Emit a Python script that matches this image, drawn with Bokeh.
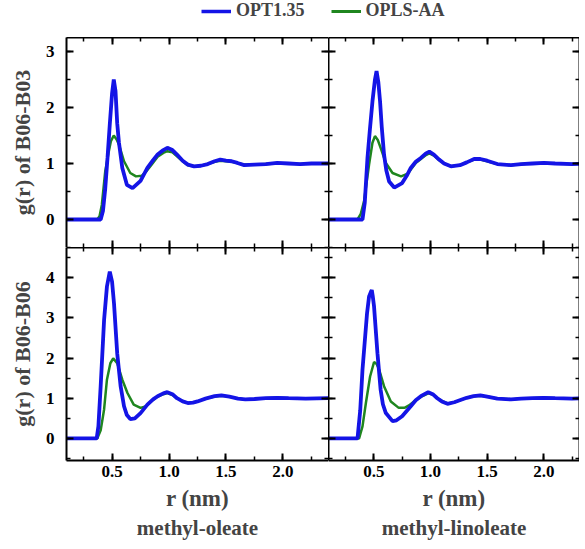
from bokeh.plotting import figure
from bokeh.models import (Range1d, LinearAxis, SingleIntervalTicker, FixedTicker,
                          PrintfTickFormatter, Legend, LegendItem, CustomLabelingPolicy)
from bokeh.layouts import column, row
from bokeh.embed import file_html
from bokeh.resources import INLINE

FONT = "Liberation Serif"
BLUE = "#1414e6"
GREEN = "#1f861f"

series_names = ["OPT1.35", "OPLS-AA"]
column_titles = ["methyl-oleate", "methyl-linoleate"]
row_titles = ["g(r) of B06-B03", "g(r) of B06-B06"]
x_title = "r (nm)"

# ---- methyl-oleate, B06-B03 ----
r_ole_b03_opt = [0.10, 0.40, 0.42, 0.44, 0.46, 0.48, 0.50, 0.515, 0.53, 0.545, 0.56, 0.59, 0.63,
                 0.68, 0.75, 0.81, 0.86, 0.90, 0.95, 0.985, 1.03, 1.07, 1.12, 1.165, 1.22, 1.28,
                 1.34, 1.40, 1.45, 1.50, 1.55, 1.60, 1.66, 1.75, 1.85, 1.95, 2.05, 2.15, 2.25, 2.40]
g_ole_b03_opt = [0.0, 0.0, 0.15, 0.55, 1.10, 1.70, 2.25, 2.50, 2.30, 1.72, 1.38, 0.92, 0.62,
                 0.56, 0.69, 0.92, 1.06, 1.16, 1.24, 1.28, 1.24, 1.16, 1.05, 0.98, 0.95, 0.96,
                 0.99, 1.04, 1.07, 1.05, 1.04, 1.01, 0.97, 0.98, 0.99, 1.01, 1.00, 0.99, 1.00, 1.00]
r_ole_b03_opls = [0.10, 0.37, 0.39, 0.41, 0.44, 0.47, 0.49, 0.515, 0.54, 0.56, 0.605, 0.66, 0.71,
                  0.76, 0.80, 0.84, 0.90, 0.95, 0.985, 1.03, 1.07, 1.12, 1.165, 1.22, 1.28, 1.34,
                  1.40, 1.45, 1.50, 1.55, 1.60, 1.66, 1.75, 1.85, 1.95, 2.05, 2.15, 2.25, 2.40]
g_ole_b03_opls = [0.0, 0.0, 0.06, 0.26, 0.86, 1.20, 1.40, 1.50, 1.43, 1.34, 1.04, 0.83, 0.77,
                  0.78, 0.86, 0.96, 1.12, 1.19, 1.22, 1.20, 1.13, 1.04, 0.97, 0.95, 0.96, 0.99,
                  1.03, 1.05, 1.04, 1.03, 1.01, 0.98, 0.98, 0.99, 1.00, 1.00, 0.99, 1.00, 1.00]

# ---- methyl-oleate, B06-B06 ----
r_ole_b06_opt = [0.10, 0.365, 0.38, 0.40, 0.43, 0.455, 0.48, 0.50, 0.517, 0.545, 0.575, 0.605,
                 0.63, 0.66, 0.70, 0.75, 0.81, 0.86, 0.90, 0.95, 0.985, 1.03, 1.07, 1.12, 1.165,
                 1.21, 1.25, 1.32, 1.40, 1.46, 1.53, 1.605, 1.67, 1.75, 1.85, 1.95, 2.05, 2.20, 2.40]
g_ole_b06_opt = [0.0, 0.0, 0.30, 1.30, 2.95, 3.78, 4.15, 3.90, 3.36, 2.12, 1.30, 0.80,
                 0.58, 0.48, 0.50, 0.63, 0.84, 0.97, 1.05, 1.12, 1.15, 1.10, 1.00, 0.92, 0.88,
                 0.89, 0.92, 0.99, 1.05, 1.07, 1.04, 0.99, 0.97, 0.98, 1.00, 1.01, 1.00, 0.99, 1.00]
r_ole_b06_opls = [0.10, 0.37, 0.40, 0.43, 0.455, 0.485, 0.51, 0.545, 0.59, 0.635, 0.69, 0.75,
                  0.80, 0.84, 0.90, 0.95, 0.985, 1.03, 1.07, 1.12, 1.165, 1.21, 1.25, 1.32, 1.40,
                  1.46, 1.53, 1.605, 1.67, 1.75, 1.85, 1.95, 2.05, 2.20, 2.40]
g_ole_b06_opls = [0.0, 0.0, 0.20, 0.72, 1.46, 1.87, 1.99, 1.87, 1.46, 1.13, 0.84, 0.76,
                  0.80, 0.92, 1.04, 1.10, 1.13, 1.08, 1.00, 0.92, 0.89, 0.89, 0.92, 0.99, 1.04,
                  1.06, 1.04, 0.99, 0.97, 0.98, 1.00, 1.01, 1.00, 0.99, 1.00]

# ---- methyl-linoleate, B06-B03 ----
r_lin_b03_opt = [0.10, 0.40, 0.42, 0.444, 0.465, 0.488, 0.51, 0.524, 0.54, 0.555, 0.57, 0.59,
                 0.61, 0.635, 0.68, 0.75, 0.79, 0.826, 0.87, 0.915, 0.96, 0.99, 1.03, 1.076,
                 1.12, 1.18, 1.26, 1.32, 1.385, 1.44, 1.50, 1.59, 1.71, 1.80, 1.90, 2.00, 2.10,
                 2.25, 2.40]
g_lin_b03_opt = [0.0, 0.0, 0.30, 1.10, 1.60, 2.11, 2.50, 2.65, 2.45, 2.11, 1.65, 1.16,
                 0.88, 0.68, 0.57, 0.65, 0.78, 0.92, 1.03, 1.10, 1.18, 1.21, 1.16, 1.07,
                 1.00, 0.95, 0.97, 1.02, 1.08, 1.08, 1.05, 0.99, 0.97, 0.99, 1.00, 1.01, 1.00,
                 0.99, 1.00]
r_lin_b03_opls = [0.10, 0.356, 0.385, 0.414, 0.458, 0.488, 0.51, 0.535, 0.56, 0.606, 0.665,
                  0.74, 0.80, 0.84, 0.87, 0.915, 0.96, 0.99, 1.03, 1.076, 1.12, 1.18, 1.26,
                  1.32, 1.385, 1.44, 1.50, 1.59, 1.71, 1.80, 1.90, 2.00, 2.10, 2.25, 2.40]
g_lin_b03_opls = [0.0, 0.0, 0.10, 0.33, 0.98, 1.37, 1.49, 1.42, 1.28, 1.01, 0.83,
                  0.77, 0.82, 0.93, 1.01, 1.08, 1.15, 1.18, 1.14, 1.06, 1.00, 0.95, 0.97,
                  1.02, 1.07, 1.07, 1.04, 0.99, 0.97, 0.99, 1.00, 1.01, 1.00, 0.99, 1.00]

# ---- methyl-linoleate, B06-B06 ----
r_lin_b06_opt = [0.10, 0.356, 0.38, 0.40, 0.44, 0.458, 0.475, 0.482, 0.49, 0.502, 0.532, 0.56,
                 0.58, 0.606, 0.665, 0.70, 0.75, 0.826, 0.87, 0.915, 0.98, 1.02, 1.06, 1.10,
                 1.15, 1.21, 1.27, 1.32, 1.38, 1.44, 1.50, 1.59, 1.71, 1.80, 1.90, 2.00, 2.10,
                 2.25, 2.40]
g_lin_b06_opt = [0.0, 0.0, 0.70, 1.71, 3.11, 3.53, 3.65, 3.69, 3.55, 3.28, 2.12, 1.21,
                 0.85, 0.63, 0.43, 0.45, 0.55, 0.80, 0.95, 1.05, 1.15, 1.10, 1.00, 0.92,
                 0.86, 0.90, 0.96, 1.01, 1.05, 1.07, 1.04, 0.99, 0.97, 0.99, 1.00, 1.01, 1.00,
                 0.99, 1.00]
r_lin_b06_opls = [0.10, 0.37, 0.40, 0.43, 0.467, 0.502, 0.525, 0.547, 0.59, 0.65, 0.72, 0.77,
                  0.81, 0.86, 0.915, 0.98, 1.02, 1.06, 1.10, 1.15, 1.21, 1.27, 1.32, 1.38,
                  1.44, 1.50, 1.59, 1.71, 1.80, 1.90, 2.00, 2.10, 2.25, 2.40]
g_lin_b06_opls = [0.0, 0.0, 0.30, 0.88, 1.54, 1.90, 1.85, 1.71, 1.30, 0.92, 0.76, 0.76,
                  0.82, 0.93, 1.03, 1.12, 1.09, 1.00, 0.93, 0.87, 0.90, 0.96, 1.01, 1.05,
                  1.06, 1.04, 0.99, 0.97, 0.99, 1.00, 1.01, 1.00, 0.99, 1.00]

X_START = 0.1
X_END_LEFT = 2.4
X_END_RIGHT = 2.315
Y_TOP = (-0.5, 3.25)
Y_BOTTOM = (-0.55, 4.75)

LEFT_FW, RIGHT_FW = 262, 251
TOP_FH, BOT_FH = 210, 213
LEFT_BORDER = 66
LEGEND_H = 37

x_ticker = SingleIntervalTicker(interval=0.5, num_minor_ticks=2)
y_ticker = SingleIntervalTicker(interval=1, num_minor_ticks=2)


def style_axis(ax, ticker, show_labels, line=True):
    ax.ticker = ticker
    ax.axis_line_color = "black" if line else None
    ax.axis_line_width = 2
    ax.major_tick_in = 7
    ax.major_tick_out = 0
    ax.minor_tick_in = 4
    ax.minor_tick_out = 0
    ax.major_tick_line_color = "black"
    ax.minor_tick_line_color = "black"
    ax.major_tick_line_width = 2
    ax.minor_tick_line_width = 1.5
    if show_labels:
        ax.major_label_text_font = FONT
        ax.major_label_text_font_size = "17px"
        ax.major_label_text_font_style = "bold"
        ax.major_label_text_color = "black"
    else:
        ax.major_label_policy = CustomLabelingPolicy(code="return []")
        ax.major_label_text_font_size = "0px"
        ax.major_label_text_color = None
        ax.major_label_standoff = 0
        ax.axis_label_standoff = 0


def make_panel(fw, fh, x_end, yr, is_left, is_bottom, ylabel, col_title, data):
    p = figure(frame_width=fw, frame_height=fh,
               x_range=Range1d(X_START, x_end), y_range=Range1d(*yr),
               output_backend="svg", toolbar_location=None,
               min_border=0, min_border_left=LEFT_BORDER if is_left else 0,
               outline_line_color=None)
    p.grid.visible = False
    xa = p.xaxis[0]
    ya = p.yaxis[0]
    style_axis(xa, x_ticker, is_bottom, line=is_bottom)
    style_axis(ya, y_ticker, is_left, line=True)
    if is_bottom:
        xa.formatter = PrintfTickFormatter(format="%.1f")
        xa.major_label_standoff = 5
        xa.axis_label = x_title
        xa.axis_label_text_font = FONT
        xa.axis_label_text_font_size = "23px"
        xa.axis_label_text_font_style = "bold"
        xa.axis_label_standoff = 6
        extra = LinearAxis(ticker=FixedTicker(ticks=[]))
        extra.axis_line_color = None
        extra.major_tick_line_color = None
        extra.minor_tick_line_color = None
        extra.major_label_text_font_size = "0px"
        extra.major_label_standoff = 0
        extra.axis_label = col_title
        extra.axis_label_text_font = FONT
        extra.axis_label_text_font_size = "21px"
        extra.axis_label_text_font_style = "bold"
        extra.axis_label_standoff = 2
        p.add_layout(extra, "below")
    if is_left:
        ya.major_label_standoff = 12
        ya.axis_label = ylabel
        ya.axis_label_text_font = FONT
        ya.axis_label_text_font_size = "22px"
        ya.axis_label_text_font_style = "bold"
        ya.axis_label_standoff = 8
    top_ax = LinearAxis()
    style_axis(top_ax, x_ticker, False, line=True)
    p.add_layout(top_ax, "above")
    right_ax = LinearAxis()
    style_axis(right_ax, y_ticker, False, line=not is_left)
    p.add_layout(right_ax, "right")

    (r_opt, g_opt, r_opls, g_opls) = data
    p.line(r_opls, g_opls, line_color=GREEN, line_width=2.5)
    p.line(r_opt, g_opt, line_color=BLUE, line_width=3.8)
    return p


tl = make_panel(LEFT_FW, TOP_FH, X_END_LEFT, Y_TOP, True, False, row_titles[0], None,
                (r_ole_b03_opt, g_ole_b03_opt, r_ole_b03_opls, g_ole_b03_opls))
tr = make_panel(RIGHT_FW, TOP_FH, X_END_RIGHT, Y_TOP, False, False, None, None,
                (r_lin_b03_opt, g_lin_b03_opt, r_lin_b03_opls, g_lin_b03_opls))
bl = make_panel(LEFT_FW, BOT_FH, X_END_LEFT, Y_BOTTOM, True, True, row_titles[1], column_titles[0],
                (r_ole_b06_opt, g_ole_b06_opt, r_ole_b06_opls, g_ole_b06_opls))
br = make_panel(RIGHT_FW, BOT_FH, X_END_RIGHT, Y_BOTTOM, False, True, None, column_titles[1],
                (r_lin_b06_opt, g_lin_b06_opt, r_lin_b06_opls, g_lin_b06_opls))

# legend strip
nan = float("nan")
lg = figure(frame_width=LEFT_FW + LEFT_BORDER + RIGHT_FW, frame_height=LEGEND_H,
            x_range=Range1d(0, 1), y_range=Range1d(0, 1),
            x_axis_type=None, y_axis_type=None, output_backend="svg",
            toolbar_location=None, min_border=0, outline_line_color=None)
lr1 = lg.line([nan], [nan], line_color=BLUE, line_width=3.5)
lr2 = lg.line([nan], [nan], line_color=GREEN, line_width=3)
legend = Legend(items=[LegendItem(label=series_names[0], renderers=[lr1]),
                       LegendItem(label=series_names[1], renderers=[lr2])],
                orientation="horizontal", location=(201, 16),
                label_text_font=FONT, label_text_font_size="18px",
                label_text_font_style="bold", glyph_width=30, glyph_height=20,
                label_standoff=5, spacing=26, padding=0, margin=0,
                border_line_color=None, background_fill_alpha=0)
lg.add_layout(legend)

layout = column(lg, row(tl, tr), row(bl, br))

with open("out.html", "w") as f:
    f.write(file_html(layout, INLINE))
